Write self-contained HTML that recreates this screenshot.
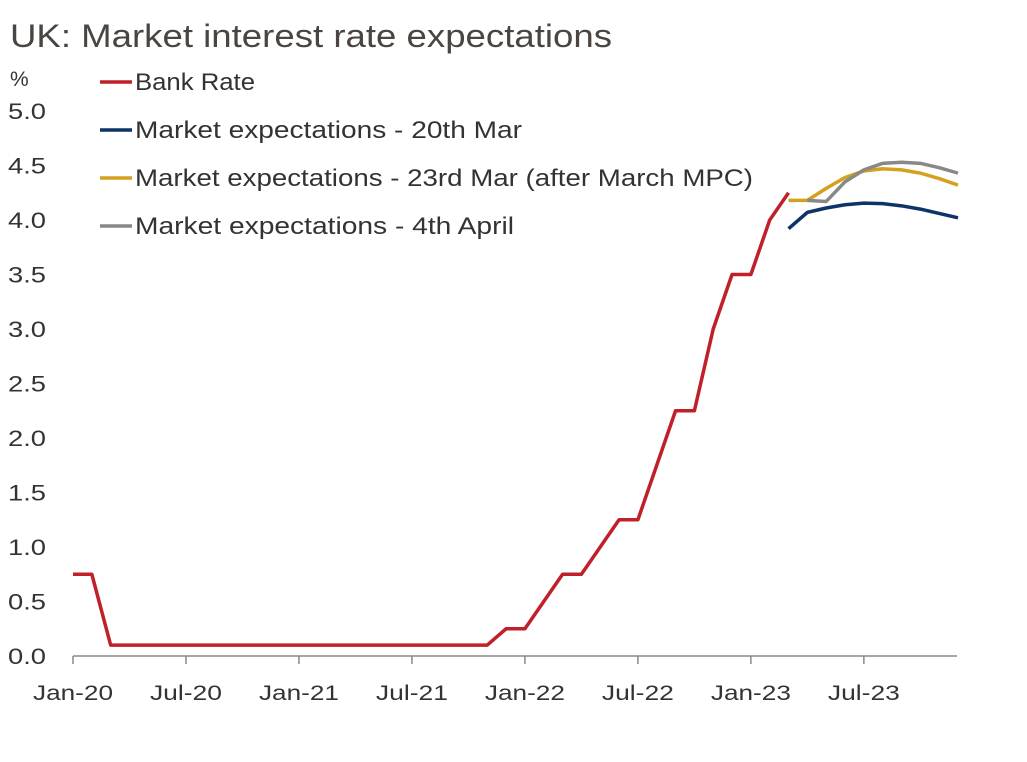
<!DOCTYPE html>
<html><head><meta charset="utf-8"><style>
body{margin:0;background:#fff;font-family:"Liberation Sans",sans-serif}
svg text{font-family:"Liberation Sans",sans-serif;fill:#333}
</style></head><body>
<svg width="1027" height="757">
<text x="10" y="47" font-size="32" textLength="602" lengthAdjust="spacingAndGlyphs" style="fill:#4a4540">UK: Market interest rate expectations</text>
<text x="10" y="86" font-size="21">%</text>
<g id="axes"></g><g id="series"></g><g id="legend"></g>
</svg>
<script>
const xLabels=["Jan-20","Jul-20","Jan-21","Jul-21","Jan-22","Jul-22","Jan-23","Jul-23"];
const yTicks=[0,0.5,1,1.5,2,2.5,3,3.5,4,4.5,5];
const bankRate=[0.75,0.75,0.1,0.1,0.1,0.1,0.1,0.1,0.1,0.1,0.1,0.1,0.1,0.1,0.1,0.1,0.1,0.1,0.1,0.1,0.1,0.1,0.1,0.25,0.25,0.5,0.75,0.75,1.0,1.25,1.25,1.75,2.25,2.25,3.0,3.5,3.5,4.0,4.25];
const mkt20Mar=[3.92,4.07,4.11,4.14,4.155,4.15,4.13,4.1,4.06,4.02];
const mkt23Mar=[4.18,4.18,4.29,4.39,4.45,4.47,4.46,4.43,4.38,4.32];
const mkt4Apr=[4.18,4.17,4.35,4.46,4.52,4.53,4.52,4.48,4.43];
const ns="http://www.w3.org/2000/svg";
const X=m=>73+m*18.83, Y=v=>656-v*109;
function mk(t,a,p){const e=document.createElementNS(ns,t);for(const k in a)e.setAttribute(k,a[k]);p.appendChild(e);return e;}
const ax=document.getElementById('axes');
let e=mk('line',{x1:73,y1:656,x2:957,y2:656,stroke:'#888','stroke-width':1.5},ax);


yTicks.forEach(v=>{const t=mk('text',{x:46,y:Y(v)+8,'font-size':22,'text-anchor':'end',textLength:38,lengthAdjust:'spacingAndGlyphs'},ax);t.textContent=v.toFixed(1);

});
xLabels.forEach((l,i)=>{const x=X(i*6);
const tk=mk('line',{x1:x,y1:656,x2:x,y2:664,stroke:'#888','stroke-width':1.5},ax);


const t=mk('text',{x:x,y:700,'font-size':21,'text-anchor':'middle',textLength:(l.startsWith('Jan')?80:72),lengthAdjust:'spacingAndGlyphs'},ax);t.textContent=l;

});
const sg=document.getElementById('series');
function line(data,start,color,name){const p=mk('polyline',{points:data.map((v,i)=>X(start+i)+','+Y(v)).join(' '),fill:'none',stroke:color,'stroke-width':3.5,'stroke-linejoin':'round'},sg);

}
line(bankRate,0,'#c0202a','bank-rate-line');
line(mkt20Mar,38,'#0d3466','market-20-mar-line');
line(mkt23Mar,38,'#d4a11e','market-23-mar-line');
line(mkt4Apr,39,'#888888','market-4-apr-line');
const lg=document.getElementById('legend');
[["Bank Rate","#c0202a",120],["Market expectations - 20th Mar","#0d3466",387],["Market expectations - 23rd Mar (after March MPC)","#d4a11e",618],["Market expectations - 4th April","#888888",379]].forEach((d,i)=>{const y=82+i*48;
const l=mk('line',{x1:100,y1:y,x2:132,y2:y,stroke:d[1],'stroke-width':3.5},lg);


const t=mk('text',{x:135,y:y+8,'font-size':24,textLength:d[2],lengthAdjust:'spacingAndGlyphs'},lg);t.textContent=d[0];

});
</script>
</body></html>
